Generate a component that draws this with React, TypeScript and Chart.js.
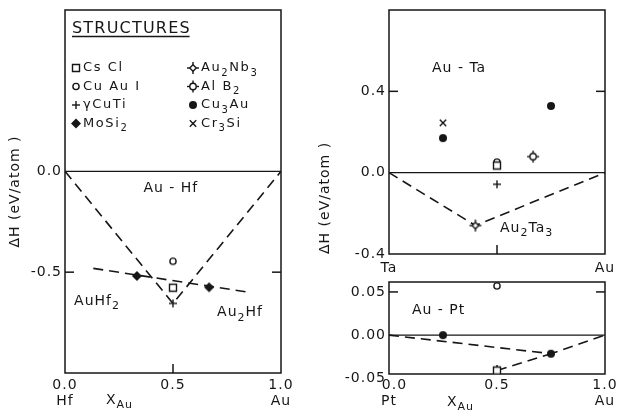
import React, { useEffect, useRef } from 'react';
import { Chart, registerables } from 'chart.js';

Chart.register(...registerables);

// ---------- data ----------
const xTickValues = [0, 0.5, 1];

// Au-Hf panel
const hfYTicks = [-0.5, 0];
const hfXLabels = [['0.0', 'Hf'], ['0.5', ''], ['1.0', 'Au']];
const hfHull = [{ x: 0, y: 0 }, { x: 0.5, y: -0.655 }, { x: 1, y: 0 }];
const hfMoSi2Line = [{ x: 0.131, y: -0.481 }, { x: 0.853, y: -0.6 }];
const hfMoSi2 = [{ x: 0.333, y: -0.519 }, { x: 0.667, y: -0.575 }];
const hfCuAuI = [{ x: 0.5, y: -0.446 }];
const hfCsCl = [{ x: 0.5, y: -0.577 }];
const hfCuTi = [{ x: 0.5, y: -0.655 }];

// Au-Ta panel
const taYTicks = [-0.4, 0, 0.4];
const taXLabels = ['Ta', '', 'Au'];
const taHull = [{ x: 0, y: 0 }, { x: 0.4, y: -0.26 }, { x: 1, y: 0 }];
const taAu2Nb3 = [{ x: 0.4, y: -0.26 }];
const taCr3Si = [{ x: 0.25, y: 0.245 }];
const taCu3Au = [{ x: 0.25, y: 0.17 }, { x: 0.75, y: 0.328 }];
const taCuAuI = [{ x: 0.5, y: 0.052 }];
const taCsCl = [{ x: 0.5, y: 0.035 }];
const taAlB2 = [{ x: 0.667, y: 0.079 }];
const taCuTi = [{ x: 0.5, y: -0.057 }];

// Au-Pt panel
const ptYTicks = [-0.05, 0, 0.05];
const ptXLabels = [['  0.0', 'Pt'], ['0.5', ''], ['1.0', 'Au']];
const ptHull = [{ x: 0, y: 0 }, { x: 0.75, y: -0.0215 }, { x: 1, y: 0 }];
const ptCsClLine = [{ x: 0.5, y: -0.041 }, { x: 0.75, y: -0.0215 }];
const ptCuAuI = [{ x: 0.5, y: 0.057 }];
const ptCu3Au = [{ x: 0.25, y: 0 }, { x: 0.75, y: -0.0215 }];
const ptCsCl = [{ x: 0.5, y: -0.041 }];

const zeroLine = [{ x: 0, y: 0 }, { x: 1, y: 0 }];

const legendCol1 = [['square', 'Cs Cl'], ['circle', 'Cu Au I'], ['plus', 'γCuTi'], ['diamond', 'MoSi_{2}']];
const legendCol2 = [['au2nb3', 'Au_{2}Nb_{3}'], ['alb2', 'Al B_{2}'], ['dot', 'Cu_{3}Au'], ['x', 'Cr_{3}Si']];

// ---------- drawing helpers ----------
const INK = '#161616';
const FONT = "'DejaVu Sans', sans-serif";
const Y_TITLE = 'ΔH (eV/atom )';

function drawSymbol(ctx: CanvasRenderingContext2D, kind: string, x: number, y: number) {
  ctx.save();
  ctx.strokeStyle = INK;
  ctx.fillStyle = INK;
  ctx.lineWidth = 1.4;
  const seg = (x1: number, y1: number, x2: number, y2: number) => {
    ctx.beginPath(); ctx.moveTo(x1, y1); ctx.lineTo(x2, y2); ctx.stroke();
  };
  switch (kind) {
    case 'square':
      ctx.fillStyle = '#fff';
      ctx.beginPath(); ctx.rect(x - 3.5, y - 3.5, 7, 7); ctx.fill(); ctx.stroke();
      break;
    case 'circle':
      ctx.fillStyle = '#fff';
      ctx.beginPath(); ctx.arc(x, y, 3.1, 0, Math.PI * 2); ctx.fill(); ctx.stroke();
      break;
    case 'plus':
      seg(x - 4, y, x + 4, y); seg(x, y - 4, x, y + 4);
      break;
    case 'diamond':
      ctx.beginPath(); ctx.moveTo(x, y - 5); ctx.lineTo(x + 5, y); ctx.lineTo(x, y + 5); ctx.lineTo(x - 5, y); ctx.closePath(); ctx.fill();
      break;
    case 'au2nb3':
      ctx.fillStyle = '#fff';
      ctx.beginPath(); ctx.moveTo(x, y - 3.3); ctx.lineTo(x + 3.3, y); ctx.lineTo(x, y + 3.3); ctx.lineTo(x - 3.3, y); ctx.closePath(); ctx.fill(); ctx.stroke();
      seg(x - 6, y, x - 3.3, y); seg(x + 3.3, y, x + 6, y); seg(x, y - 6, x, y - 3.3); seg(x, y + 3.3, x, y + 6);
      break;
    case 'alb2':
      ctx.fillStyle = '#fff';
      ctx.beginPath(); ctx.arc(x, y, 3.2, 0, Math.PI * 2); ctx.fill(); ctx.stroke();
      seg(x - 6, y, x - 3.2, y); seg(x + 3.2, y, x + 6, y); seg(x, y - 6, x, y - 3.2); seg(x, y + 3.2, x, y + 6);
      break;
    case 'dot':
      ctx.beginPath(); ctx.arc(x, y, 4, 0, Math.PI * 2); ctx.fill();
      break;
    case 'x':
      seg(x - 3.2, y - 3.2, x + 3.2, y + 3.2); seg(x - 3.2, y + 3.2, x + 3.2, y - 3.2);
      break;
  }
  ctx.restore();
}

function symbolImage(kind: string) {
  const c = document.createElement('canvas');
  c.width = 16; c.height = 16;
  drawSymbol(c.getContext('2d') as CanvasRenderingContext2D, kind, 8, 8);
  return c;
}

function parseRich(s: string): [string, boolean][] {
  const out: [string, boolean][] = [];
  const re = /_\{([^}]*)\}/g;
  let last = 0;
  let m: RegExpExecArray | null;
  while ((m = re.exec(s))) {
    if (m.index > last) out.push([s.slice(last, m.index), false]);
    out.push([m[1], true]);
    last = re.lastIndex;
  }
  if (last < s.length) out.push([s.slice(last), false]);
  return out;
}

function drawRich(ctx: CanvasRenderingContext2D, s: string, x: number, y: number, size: number, align: string, spacing: number) {
  const parts = parseRich(s);
  ctx.save();
  ctx.fillStyle = INK;
  ctx.textBaseline = 'middle';
  ctx.textAlign = 'left';
  (ctx as any).letterSpacing = spacing + 'px';
  const sub = Math.round(size * 0.8);
  const widths = parts.map(([t, isSub]) => {
    ctx.font = `${isSub ? sub : size}px ${FONT}`;
    return ctx.measureText(t).width;
  });
  const total = widths.reduce((a, b) => a + b, 0);
  let cx = align === 'center' ? x - total / 2 : align === 'right' ? x - total : x;
  parts.forEach(([t, isSub], i) => {
    ctx.font = `${isSub ? sub : size}px ${FONT}`;
    ctx.fillText(t, cx, isSub ? y + size * 0.38 : y);
    cx += widths[i];
  });
  ctx.restore();
}

type Label = { text: string; x: number; y: number; align: string; px?: boolean; size?: number };

function decorPlugin(yIn: number[], xIn: number[], labels: Label[], extra?: (c: any) => void) {
  return {
    id: 'decor',
    beforeDraw(chart: any) {
      chart.ctx.letterSpacing = '1px';
    },
    beforeDatasetsDraw(chart: any) {
      const { ctx, chartArea: ca, scales } = chart;
      ctx.save();
      ctx.strokeStyle = INK;
      ctx.lineWidth = 1.5;
      ctx.strokeRect(ca.left, ca.top, ca.right - ca.left, ca.bottom - ca.top);
      const seg = (x1: number, y1: number, x2: number, y2: number) => {
        ctx.beginPath(); ctx.moveTo(x1, y1); ctx.lineTo(x2, y2); ctx.stroke();
      };
      yIn.forEach((v) => {
        const y = scales.y.getPixelForValue(v);
        seg(ca.left, y, ca.left + 9, y);
        seg(ca.right - 9, y, ca.right, y);
      });
      xIn.forEach((v) => {
        const x = scales.x.getPixelForValue(v);
        seg(x, ca.bottom, x, ca.bottom - 9);
      });
      ctx.restore();
    },
    afterDraw(chart: any) {
      const { ctx, scales } = chart;
      labels.forEach((l) => {
        const px = l.px ? l.x : scales.x.getPixelForValue(l.x);
        const py = l.px ? l.y : scales.y.getPixelForValue(l.y);
        drawRich(ctx, l.text, px, py, l.size || 14, l.align, 1);
      });
      if (extra) extra(chart);
    },
  };
}

function lineDs(data: any[], dashed: boolean) {
  return {
    data,
    showLine: true,
    pointRadius: 0,
    borderColor: INK,
    borderWidth: dashed ? 1.6 : 1.4,
    borderDash: dashed ? [10, 6] : [],
    fill: false,
    order: 5,
  };
}

function markDs(data: any[], kind: string, order = 1) {
  return {
    data,
    showLine: false,
    pointStyle: symbolImage(kind),
    pointRadius: 5,
    order,
  };
}

function tickFont() {
  return { family: FONT, size: 14, lineHeight: 1.15 };
}

function makeConfig(p: {
  datasets: any[];
  yMin: number; yMax: number; yTicks: number[]; yDigits: number;
  xLabels: any[];
  padding: any; yWidth: number; xHeight: number; xPad: number;
  title: boolean; titleAlign: string;
  plugin: any;
}) {
  return {
    type: 'scatter',
    data: { datasets: p.datasets },
    options: {
      animation: false,
      responsive: false,
      devicePixelRatio: 1,
      events: [],
      layout: { padding: p.padding },
      plugins: { legend: { display: false }, tooltip: { enabled: false } },
      scales: {
        x: {
          type: 'linear',
          min: 0,
          max: 1,
          grid: { display: false, drawTicks: false },
          border: { display: false },
          afterBuildTicks: (s: any) => { s.ticks = xTickValues.map((v) => ({ value: v })); },
          afterFit: (s: any) => { s.height = p.xHeight; s.paddingLeft = 0; s.paddingRight = 0; },
          ticks: {
            autoSkip: false,
            maxRotation: 0,
            padding: p.xPad,
            color: INK,
            font: tickFont(),
            callback: (_v: any, i: number) => p.xLabels[i],
          },
        },
        y: {
          type: 'linear',
          min: p.yMin,
          max: p.yMax,
          grid: { display: false, drawTicks: false },
          border: { display: false },
          afterBuildTicks: (s: any) => { s.ticks = p.yTicks.map((v) => ({ value: v })); },
          afterFit: (s: any) => { s.width = p.yWidth; s.paddingTop = 0; s.paddingBottom = 0; },
          title: {
            display: p.title,
            text: Y_TITLE,
            color: INK,
            font: { family: FONT, size: 14, lineHeight: 1.2 },
            padding: { top: 7, bottom: 0 },
            align: p.titleAlign,
          },
          ticks: {
            autoSkip: false,
            padding: 3,
            color: INK,
            font: tickFont(),
            callback: (v: any) => Number(v).toFixed(p.yDigits),
          },
        },
      },
    },
    plugins: [p.plugin],
  };
}

function legendDraw(chart: any) {
  const { ctx } = chart;
  ctx.save();
  ctx.fillStyle = INK;
  ctx.letterSpacing = '1.2px';
  ctx.font = `16px ${FONT}`;
  ctx.textBaseline = 'alphabetic';
  ctx.textAlign = 'left';
  ctx.fillText('STRUCTURES', 72, 33);
  const w = ctx.measureText('STRUCTURES').width;
  ctx.strokeStyle = INK;
  ctx.lineWidth = 1.3;
  ctx.beginPath(); ctx.moveTo(72, 36.5); ctx.lineTo(72 + w - 1.2, 36.5); ctx.stroke();
  ctx.restore();
  const rows = [68, 86.5, 105, 123.5];
  legendCol1.forEach(([k, t], i) => {
    drawSymbol(ctx, k, 76, rows[i]);
    drawRich(ctx, t, 83, rows[i], 13, 'left', 1.6);
  });
  legendCol2.forEach(([k, t], i) => {
    drawSymbol(ctx, k, 193, rows[i]);
    drawRich(ctx, t, 201, rows[i], 13, 'left', 1.6);
  });
}

export default function App() {
  const aRef = useRef<HTMLCanvasElement>(null);
  const bRef = useRef<HTMLCanvasElement>(null);
  const cRef = useRef<HTMLCanvasElement>(null);

  useEffect(() => {
    Chart.defaults.font.family = FONT;
    const hf = new Chart(aRef.current as any, makeConfig({
      datasets: [
        lineDs(zeroLine, false),
        lineDs(hfHull, true),
        lineDs(hfMoSi2Line, true),
        markDs(hfMoSi2, 'diamond'),
        markDs(hfCuAuI, 'circle'),
        markDs(hfCsCl, 'square'),
        markDs(hfCuTi, 'plus'),
      ],
      yMin: -1.0, yMax: 0.8, yTicks: hfYTicks, yDigits: 1,
      xLabels: hfXLabels,
      padding: { left: 0, top: 10, right: 29, bottom: 0 },
      yWidth: 65, xHeight: 38, xPad: 4,
      title: true, titleAlign: 'center',
      plugin: decorPlugin([-0.5], [0.5], [
        { text: 'Au - Hf', x: 0.49, y: -0.083, align: 'center' },
        { text: 'AuHf_{2}', x: 0.042, y: -0.643, align: 'left' },
        { text: 'Au_{2}Hf', x: 0.704, y: -0.7, align: 'left' },
        { text: 'X_{Au}', x: 106, y: 400, align: 'left', px: true },
      ], legendDraw),
    }) as any);

    const ta = new Chart(bRef.current as any, makeConfig({
      datasets: [
        lineDs(zeroLine, false),
        lineDs(taHull, true),
        markDs(taAu2Nb3, 'au2nb3'),
        markDs(taCr3Si, 'x'),
        markDs(taCu3Au, 'dot'),
        markDs(taCsCl, 'square', 0),
        markDs(taCuAuI, 'circle', 1),
        markDs(taAlB2, 'alb2'),
        markDs(taCuTi, 'plus'),
      ],
      yMin: -0.4, yMax: 0.8, yTicks: taYTicks, yDigits: 1,
      xLabels: taXLabels,
      padding: { left: 0, top: 10, right: 13, bottom: 0 },
      yWidth: 79, xHeight: 26, xPad: 6,
      title: true, titleAlign: 'start',
      plugin: decorPlugin([0.4], [0.5], [
        { text: 'Au - Ta', x: 0.199, y: 0.515, align: 'left' },
        { text: 'Au_{2}Ta_{3}', x: 0.514, y: -0.272, align: 'left' },
      ]),
    }) as any);

    const pt = new Chart(cRef.current as any, makeConfig({
      datasets: [
        lineDs(zeroLine, false),
        lineDs(ptHull, true),
        lineDs(ptCsClLine, true),
        markDs(ptCuAuI, 'circle'),
        markDs(ptCu3Au, 'dot'),
        markDs(ptCsCl, 'square'),
      ],
      yMin: -0.045, yMax: 0.0615, yTicks: ptYTicks, yDigits: 2,
      xLabels: ptXLabels,
      padding: { left: 0, top: 14, right: 13, bottom: 0 },
      yWidth: 79, xHeight: 37, xPad: 3,
      title: false, titleAlign: 'center',
      plugin: decorPlugin([0.05], [0.5], [
        { text: 'Au - Pt', x: 0.106, y: 0.029, align: 'left' },
        { text: 'X_{Au}', x: 137, y: 134, align: 'left', px: true },
      ]),
    }) as any);

    return () => { hf.destroy(); ta.destroy(); pt.destroy(); };
  }, []);

  return (
    <div style={{ position: 'absolute', left: 0, top: 0, width: 618, height: 411, background: '#fff', overflow: 'hidden' }}>
      <canvas ref={aRef} width={310} height={411} style={{ position: 'absolute', left: 0, top: 0, width: 310, height: 411 }} />
      <canvas ref={bRef} width={308} height={280} style={{ position: 'absolute', left: 310, top: 0, width: 308, height: 280 }} />
      <canvas ref={cRef} width={308} height={143} style={{ position: 'absolute', left: 310, top: 268, width: 308, height: 143 }} />
    </div>
  );
}
